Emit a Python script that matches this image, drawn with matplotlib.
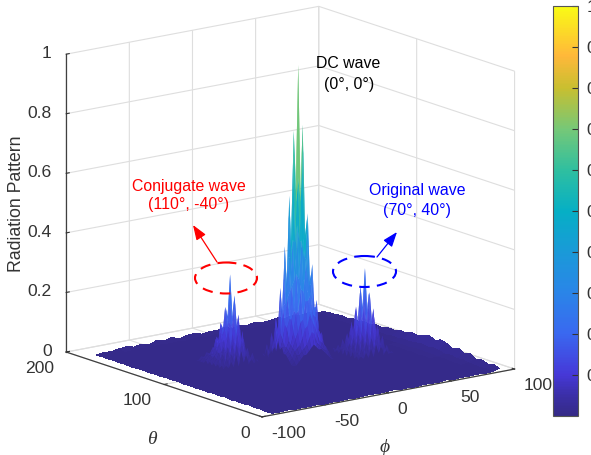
import numpy as np
import matplotlib
matplotlib.use("Agg")
import matplotlib.pyplot as plt
from matplotlib.colors import LinearSegmentedColormap, Normalize
from matplotlib.cm import ScalarMappable
from matplotlib.patches import Ellipse

plt.rcParams['font.family'] = ['Liberation Sans', 'DejaVu Sans']
plt.rcParams['axes.unicode_minus'] = False

phi_ticks = [-100, -50, 0, 50, 100]
theta_ticks = [0, 100, 200]
z_ticks = [0, 0.2, 0.4, 0.6, 0.8, 1]
cbar_ticks = [0.1, 0.2, 0.3, 0.4, 0.5, 0.6, 0.7, 0.8, 0.9, 1]

# background level, read in thousandths: rows theta 0..180, columns phi -92..88, step 6
floor_phi = list(range(-92, 89, 6))
floor_theta = list(range(0, 181, 6))
floor_level = [
    [6, 5, 7, 4, 6, 4, 7, 3, 5, 4, 6, 4, 5, 7, 4, 6, 7, 4, 5, 3, 6, 5, 4, 7, 4, 6, 5, 7, 4, 6, 12],
    [4, 7, 4, 6, 3, 5, 4, 7, 4, 6, 3, 6, 4, 4, 7, 5, 3, 6, 4, 7, 4, 5, 7, 3, 6, 4, 6, 4, 7, 9, 19],
    [7, 4, 6, 5, 7, 3, 6, 4, 5, 3, 7, 4, 6, 5, 3, 6, 5, 4, 7, 4, 6, 3, 5, 6, 4, 7, 4, 5, 5, 7, 13],
    [5, 6, 3, 7, 4, 6, 4, 7, 3, 6, 5, 4, 7, 4, 6, 4, 7, 5, 3, 6, 4, 7, 4, 6, 3, 5, 7, 4, 6, 8, 21],
    [8, 4, 6, 4, 5, 7, 5, 3, 6, 4, 7, 5, 4, 6, 5, 7, 3, 6, 4, 5, 7, 4, 6, 5, 7, 4, 3, 6, 5, 9, 16],
    [5, 7, 5, 6, 3, 4, 7, 5, 4, 7, 4, 6, 5, 3, 7, 4, 6, 5, 7, 4, 5, 6, 3, 7, 4, 6, 7, 4, 7, 14, 30],
    [7, 4, 6, 4, 7, 6, 4, 5, 6, 3, 5, 7, 4, 7, 4, 5, 5, 7, 3, 6, 7, 4, 5, 4, 6, 5, 4, 7, 6, 10, 24],
    [5, 6, 4, 7, 4, 5, 7, 6, 4, 7, 4, 5, 6, 5, 4, 7, 4, 6, 5, 7, 4, 5, 7, 6, 4, 6, 5, 5, 9, 16, 34],
    [8, 4, 7, 5, 6, 4, 5, 4, 7, 5, 6, 4, 7, 4, 6, 5, 7, 4, 6, 4, 5, 7, 4, 7, 5, 4, 7, 6, 7, 12, 26],
    [6, 7, 4, 6, 5, 7, 4, 6, 3, 6, 7, 5, 4, 7, 5, 6, 4, 5, 7, 5, 7, 4, 6, 5, 7, 5, 4, 8, 11, 18, 37],
    [8, 5, 6, 4, 7, 4, 6, 5, 7, 4, 4, 7, 5, 6, 4, 7, 5, 4, 6, 4, 5, 7, 5, 4, 6, 5, 7, 6, 10, 20, 42],
    [5, 7, 4, 7, 5, 6, 4, 7, 4, 6, 5, 4, 7, 5, 6, 4, 6, 7, 4, 7, 6, 4, 7, 6, 4, 7, 5, 9, 12, 17, 35],
    [7, 4, 6, 5, 6, 4, 7, 5, 5, 7, 4, 6, 5, 4, 7, 5, 7, 4, 6, 5, 7, 5, 4, 7, 5, 6, 6, 7, 11, 21, 44],
    [5, 8, 4, 7, 4, 7, 5, 6, 7, 4, 6, 5, 7, 6, 4, 6, 4, 7, 5, 6, 4, 7, 6, 4, 7, 4, 5, 9, 8, 18, 38],
    [7, 4, 6, 5, 7, 5, 6, 4, 5, 7, 7, 4, 6, 4, 7, 5, 6, 4, 7, 5, 7, 4, 5, 6, 5, 7, 4, 8, 10, 15, 31],
    [5, 7, 4, 6, 4, 7, 4, 7, 6, 4, 5, 7, 4, 6, 5, 7, 4, 6, 4, 7, 5, 6, 7, 4, 6, 4, 7, 7, 9, 17, 36],
    [8, 4, 7, 5, 6, 5, 7, 5, 4, 7, 5, 6, 7, 4, 5, 6, 5, 7, 4, 6, 7, 4, 5, 7, 5, 6, 4, 7, 8, 13, 27],
    [6, 7, 5, 7, 4, 6, 4, 6, 5, 7, 4, 6, 5, 7, 6, 4, 7, 5, 6, 4, 5, 7, 4, 6, 7, 4, 6, 5, 8, 14, 29],
    [8, 4, 6, 4, 7, 5, 7, 4, 7, 5, 6, 4, 5, 7, 4, 7, 5, 6, 7, 5, 6, 4, 7, 5, 4, 7, 5, 6, 7, 11, 23],
    [5, 6, 7, 5, 5, 7, 4, 6, 4, 6, 7, 5, 7, 4, 6, 5, 6, 4, 7, 4, 6, 7, 4, 6, 7, 5, 7, 6, 6, 12, 25],
    [7, 5, 4, 6, 7, 4, 6, 7, 5, 4, 6, 7, 4, 6, 7, 4, 6, 7, 5, 5, 7, 5, 6, 4, 5, 7, 4, 5, 6, 9, 19],
    [5, 7, 6, 4, 5, 7, 4, 5, 7, 6, 4, 7, 5, 6, 5, 7, 4, 5, 7, 6, 4, 7, 5, 7, 6, 4, 6, 7, 5, 10, 21],
    [7, 4, 7, 5, 6, 4, 7, 5, 4, 7, 6, 5, 4, 7, 6, 4, 7, 5, 4, 7, 6, 4, 6, 4, 7, 5, 5, 7, 4, 8, 15],
    [6, 6, 4, 7, 5, 6, 7, 4, 6, 4, 5, 7, 6, 4, 7, 5, 6, 6, 4, 7, 5, 6, 5, 7, 4, 6, 7, 4, 6, 8, 18],
    [4, 7, 5, 5, 7, 4, 5, 6, 7, 5, 7, 4, 6, 5, 4, 7, 5, 4, 7, 4, 6, 7, 4, 6, 7, 4, 5, 6, 5, 7, 12],
    [7, 4, 6, 7, 4, 6, 5, 4, 6, 7, 4, 6, 7, 5, 6, 4, 7, 6, 5, 6, 4, 4, 7, 5, 4, 6, 7, 4, 7, 7, 16],
    [5, 6, 4, 6, 7, 5, 7, 6, 4, 5, 7, 5, 4, 7, 5, 7, 4, 5, 6, 7, 5, 7, 5, 4, 6, 7, 5, 6, 4, 6, 11],
    [7, 5, 7, 4, 5, 6, 4, 7, 5, 7, 4, 6, 5, 4, 7, 6, 5, 7, 4, 5, 7, 4, 6, 7, 5, 4, 7, 5, 7, 6, 14],
    [6, 7, 5, 6, 7, 4, 6, 5, 6, 4, 6, 7, 4, 6, 5, 4, 6, 5, 7, 4, 6, 5, 7, 4, 6, 7, 4, 6, 5, 7, 10],
    [7, 5, 8, 5, 7, 8, 5, 7, 9, 6, 8, 5, 7, 9, 5, 8, 6, 5, 7, 9, 5, 7, 5, 8, 6, 8, 5, 7, 6, 8, 11],
    [5, 9, 7, 11, 14, 8, 12, 6, 15, 9, 16, 7, 13, 15, 8, 12, 11, 16, 8, 13, 9, 14, 8, 11, 15, 8, 13, 9, 12, 8, 6],
]

# light specks seen on the floor: phi positions per theta row (theta 3..177, step 6)
speck_theta = list(range(3, 178, 6))
speck_phi = [
    [-71, -38, -12, 9, 33, 61, -52, -24, 4, 21, 46, 70],
    [-64, -41, -20, -3, 17, 29, 52, 73, -83, -31, -9, 39],
    [-82, -55, -28, -9, 6, 24, 47, 66, -43, -17, 13, 35],
    [-49, -33, -15, 2, 13, 38, 58, 79, -68, -25, 27, 45],
    [-76, -59, -26, -7, 11, 22, 43, 70, -37, -13, 3, 54],
    [-68, -44, -18, -1, 19, 35, 51, 63, -30, -10, 8, 26, 41],
    [-53, -36, -23, 4, 15, 28, 47, 74, -12, -5, 9, 20, 60],
    [-79, -61, -39, -14, 8, 25, 41, 57, -27, -3, 16, 33],
    [-47, -30, -11, 3, 20, 34, 49, 68, -20, -6, 13, 27, 62],
    [-72, -56, -25, -6, 12, 27, 55, 63, -15, 5, 18, 37, 43],
    [-65, -42, -31, -17, 1, 18, 59, 77, -9, 7, 23, 35, 50],
    [-51, -37, -22, -19, 21, 24, 30, 53, 71, -14, 16, 26, -2],
    [-83, -46, -28, -21, 23, 18, 60, 66, -33, -12, 15, 28],
    [-60, -34, -24, -20, 22, 19, 56, 74, -40, 17, 31, 25],
    [-70, -48, -30, -23, 25, 33, 49, 62, -18, 20, 28, 39],
    [-54, -41, -26, -19, 21, 37, 58, 80, -32, -22, 16, 44],
    [-77, -58, -35, -24, 20, 29, 44, 68, -45, -17, 14, 52],
    [-62, -52, -29, -18, 6, 24, 51, 72, -38, -21, 12, 35],
    [-85, -66, -27, -14, 3, 17, 39, 60, -44, -33, -8, 25],
    [-59, -23, -12, -4, 11, 32, 55, 75, -40, -29, 20, 46],
    [-74, -60, -25, -8, 7, 26, 46, 67, -37, -16, 16, 34],
    [-63, -48, -21, -2, 15, 36, 57, -30, -11, 5, 24, 78],
    [-80, -57, -33, -13, 5, 28, 50, 70, -42, -22, 17, 38],
    [-69, -43, -27, 1, 19, 41, 64, -53, -8, 10, 30, 55],
    [-55, -35, -16, 9, 30, 53, 76, -73, -25, 2, 20, 43],
    [-75, -49, -24, -5, 14, 38, 61, -60, -31, 7, 27, 49],
    [-66, -39, -10, 23, 45, 69, -51, -19, 4, 33],
    [-81, -52, -29, 6, 33, 58, -64, -14, 16, 47],
    [-61, -37, -15, 12, 42, 73, -46, -23, 27, 55],
    [-72, -44, -20, 18, 49, 65, -33, 2, 35],
]

# DC lobe, read in hundredths: theta 76..108, phi -16..16, step 2
dc_phi = list(range(-16, 17, 2))
dc_theta = list(range(76, 109, 2))
dc_level = [
    [2, 2, 3, 4, 5, 5, 6, 7, 8, 7, 6, 6, 5, 4, 3, 2, 2],
    [2, 3, 5, 5, 6, 7, 8, 10, 12, 11, 8, 7, 6, 5, 5, 3, 2],
    [3, 4, 6, 7, 8, 10, 13, 14, 18, 15, 13, 10, 8, 7, 6, 4, 3],
    [4, 5, 7, 10, 12, 15, 16, 22, 22, 24, 17, 16, 12, 10, 7, 5, 4],
    [5, 6, 8, 12, 18, 19, 26, 25, 36, 27, 27, 19, 19, 11, 8, 6, 5],
    [5, 7, 9, 16, 19, 31, 29, 42, 36, 44, 27, 31, 16, 21, 7, 10, 4],
    [7, 7, 13, 16, 27, 29, 47, 41, 72, 42, 49, 24, 33, 12, 18, 5, 9],
    [6, 9, 14, 23, 25, 42, 41, 64, 56, 80, 34, 50, 19, 29, 10, 14, 4],
    [9, 11, 20, 21, 36, 36, 70, 58, 100, 54, 72, 30, 43, 17, 24, 8, 11],
    [5, 15, 11, 30, 19, 51, 33, 78, 54, 62, 38, 41, 24, 22, 13, 10, 6],
    [9, 5, 19, 11, 34, 23, 56, 34, 74, 35, 50, 26, 27, 15, 14, 7, 7],
    [4, 10, 7, 22, 14, 39, 23, 50, 30, 52, 22, 36, 14, 18, 9, 7, 5],
    [7, 4, 13, 9, 25, 14, 33, 19, 44, 20, 34, 14, 25, 8, 11, 6, 4],
    [2, 8, 5, 15, 9, 22, 12, 30, 17, 29, 12, 22, 8, 15, 4, 8, 3],
    [5, 2, 10, 4, 12, 7, 19, 10, 25, 11, 18, 7, 12, 4, 10, 2, 4],
    [2, 6, 3, 9, 4, 11, 6, 15, 9, 15, 5, 11, 4, 8, 2, 6, 2],
    [3, 2, 5, 2, 7, 4, 9, 5, 11, 4, 9, 3, 7, 2, 5, 1, 3],
]

# conjugate lobe, hundredths: theta 96..124, phi -56..-28, step 2
conj_phi = list(range(-56, -27, 2))
conj_theta = list(range(96, 125, 2))
conj_level = [
    [2, 3, 2, 4, 2, 6, 2, 7, 3, 6, 2, 4, 2, 3, 2],
    [3, 2, 5, 2, 6, 3, 9, 4, 10, 4, 7, 2, 5, 2, 3],
    [2, 5, 2, 7, 4, 9, 5, 12, 6, 13, 4, 7, 3, 5, 2],
    [3, 2, 6, 3, 8, 5, 12, 7, 15, 7, 11, 4, 6, 2, 3],
    [2, 4, 4, 8, 6, 13, 7, 17, 9, 18, 7, 10, 4, 5, 2],
    [3, 4, 6, 6, 10, 10, 16, 14, 20, 14, 15, 7, 8, 3, 4],
    [2, 5, 6, 9, 9, 14, 14, 22, 17, 24, 11, 13, 6, 7, 2],
    [3, 4, 8, 7, 12, 11, 20, 17, 31, 16, 21, 9, 12, 4, 4],
    [2, 5, 5, 10, 8, 15, 13, 20, 15, 21, 11, 12, 5, 7, 2],
    [3, 4, 5, 6, 9, 9, 14, 12, 18, 12, 13, 7, 7, 3, 4],
    [2, 3, 4, 6, 6, 10, 8, 13, 10, 12, 7, 8, 4, 4, 2],
    [2, 3, 4, 4, 6, 6, 9, 7, 10, 7, 8, 4, 5, 3, 2],
    [2, 3, 3, 4, 4, 6, 5, 7, 6, 7, 4, 5, 3, 3, 2],
    [2, 2, 3, 3, 4, 3, 5, 4, 6, 4, 4, 3, 3, 2, 2],
    [2, 2, 3, 2, 4, 3, 4, 3, 5, 3, 3, 3, 3, 2, 2],
]

# original lobe, hundredths: theta 64..92, phi 26..54, step 2
orig_phi = list(range(26, 55, 2))
orig_theta = list(range(64, 93, 2))
orig_level = [
    [2, 3, 2, 4, 2, 5, 2, 6, 3, 7, 2, 4, 2, 3, 2],
    [3, 2, 5, 2, 7, 3, 8, 4, 10, 3, 7, 2, 5, 2, 2],
    [2, 4, 2, 8, 4, 10, 5, 13, 6, 12, 4, 8, 3, 4, 2],
    [4, 2, 7, 3, 9, 5, 13, 6, 16, 7, 10, 4, 7, 2, 3],
    [2, 6, 3, 9, 6, 14, 7, 18, 9, 17, 6, 10, 3, 5, 2],
    [4, 2, 8, 5, 12, 8, 19, 12, 22, 12, 14, 8, 8, 3, 4],
    [2, 6, 4, 11, 7, 16, 13, 23, 16, 22, 11, 12, 6, 6, 2],
    [4, 3, 9, 6, 14, 11, 22, 17, 30, 15, 20, 9, 10, 4, 4],
    [2, 6, 4, 11, 7, 17, 11, 24, 14, 24, 9, 13, 5, 5, 2],
    [4, 2, 7, 4, 11, 7, 17, 10, 20, 9, 14, 5, 8, 2, 3],
    [2, 5, 3, 8, 4, 12, 6, 14, 8, 13, 5, 8, 3, 5, 2],
    [3, 2, 5, 3, 8, 4, 10, 5, 11, 5, 8, 3, 5, 2, 3],
    [2, 4, 2, 6, 3, 7, 4, 8, 4, 7, 3, 5, 3, 3, 2],
    [3, 2, 4, 2, 5, 3, 5, 3, 6, 3, 4, 2, 3, 2, 2],
    [2, 3, 2, 3, 2, 4, 2, 5, 3, 4, 2, 3, 2, 2, 2],
]

parula = LinearSegmentedColormap.from_list("parula", [
    (0.0, "#352a87"), (0.05, "#3b2fa8"), (0.1, "#4638d8"), (0.2, "#3a68f0"),
    (0.3, "#2a85e8"), (0.4, "#1a9ad8"), (0.5, "#06afc5"), (0.6, "#2fbfa0"),
    (0.7, "#75c878"), (0.8, "#c8bf30"), (0.88, "#ffb83a"), (1.0, "#f9fb15")])
norm = Normalize(0, 1)

W, H = 591, 455
fig = plt.figure(figsize=(W / 100, H / 100), dpi=100)

side = 532
ax = fig.add_axes([(283.2 - side / 2) / W, 1 - (218.8 + side / 2) / H, side / W, side / H],
                  projection='3d', proj_type='ortho', computed_zorder=False)
ax.view_init(elev=14.5, azim=-127.1)
ax.set_box_aspect((317, 325, 308), zoom=1)


def draw_surface(phi, theta, level, scale, order, alpha, smooth):
    P, T = np.meshgrid(phi, theta)
    Z = np.array(level) / scale
    ax.plot_surface(P, T, Z, rstride=1, cstride=1, cmap=parula, norm=norm, linewidth=0,
                    antialiased=smooth, shade=False, alpha=alpha, zorder=order)


draw_surface(floor_phi, floor_theta, floor_level, 1000, 2, 1, False)

# specks sit just above the floor surface
sx, sy = [], []
for t, row in zip(speck_theta, speck_phi):
    sx += row
    sy += [t] * len(row)
ax.scatter(sx, sy, [0.012] * len(sx), s=0.5, c='#7f7ce0', marker='s', linewidths=0,
           alpha=0.55, depthshade=False, zorder=2.5)

draw_surface(conj_phi, conj_theta, conj_level, 100, 3, 0.92, True)
draw_surface(dc_phi, dc_theta, dc_level, 100, 4, 0.92, True)
draw_surface(orig_phi, orig_theta, orig_level, 100, 5, 0.92, True)

ax.set_xlim(-100, 100, view_margin=0)
ax.set_ylim(0, 200, view_margin=0)
ax.set_zlim(0, 1, view_margin=0)
ax.set_xticks(phi_ticks)
ax.set_yticks(theta_ticks)
ax.set_zticks(z_ticks)
ax.set_xticklabels([str(v) for v in phi_ticks], ha='left', va='center')
ax.set_yticklabels([str(v) for v in theta_ticks], ha='right', va='center')
ax.set_zticklabels(['0', '0.2', '0.4', '0.6', '0.8', '1'], ha='right', va='center')
ax.patch.set_alpha(0)
for a in (ax.xaxis, ax.yaxis, ax.zaxis):
    a.set_pane_color((1, 1, 1, 0))
    a.pane.set_edgecolor((1, 1, 1, 0))
    a._axinfo['grid'].update(color='#dedede', linewidth=0.8)
    a._axinfo['tick'].update(inward_factor=0, outward_factor=0.15)
    a.line.set_color('#404040')
    a.line.set_linewidth(0.9)
ax.tick_params(labelsize=12.6, colors='#333333')
ax.xaxis.set_tick_params(pad=1.2)
ax.yaxis.set_tick_params(pad=1.5)
ax.zaxis.set_tick_params(pad=-1.5)

# colorbar
cax = fig.add_axes([553 / W, 1 - 416 / H, 25 / W, 410 / H])
cb = fig.colorbar(ScalarMappable(norm=norm, cmap=parula), cax=cax)
cb.set_ticks(cbar_ticks)
cb.set_ticklabels(['0.1', '0.2', '0.3', '0.4', '0.5', '0.6', '0.7', '0.8', '0.9', '1'])
cb.ax.tick_params(direction='in', length=4, width=0.8, labelsize=12.6, colors='#333333', pad=6)
cb.outline.set_edgecolor('#555555')
cb.outline.set_linewidth(0.8)

# annotations in pixel coordinates
ov = fig.add_axes([0, 0, 1, 1])
ov.set_xlim(0, W)
ov.set_ylim(H, 0)
ov.axis('off')
ov.text(348, 63, "DC wave", ha='center', va='center', fontsize=11.4, color='k')
ov.text(349, 85, "(0°, 0°)", ha='center', va='center', fontsize=11.4, color='k')
ov.text(189, 186, "Conjugate wave", ha='center', va='center', fontsize=11.4, color='r')
ov.text(189, 205, "(110°, -40°)", ha='center', va='center', fontsize=11.4, color='r')
ov.text(417, 190, "Original wave", ha='center', va='center', fontsize=11.4, color='b')
ov.text(417, 210, "(70°, 40°)", ha='center', va='center', fontsize=11.4, color='b')
ov.add_patch(Ellipse((226, 278), 62, 31, fill=False, ec='r', lw=1.5, ls=(0, (5, 3.5))))
ov.add_patch(Ellipse((364.5, 271.5), 63, 31, fill=False, ec='b', lw=1.5, ls=(0, (5, 3.5))))
head = '-|>,head_length=0.6,head_width=0.22'
ov.annotate("", xy=(193, 225), xytext=(217, 262),
            arrowprops=dict(arrowstyle=head, color='r', lw=0.9, mutation_scale=15, shrinkA=0, shrinkB=0))
ov.annotate("", xy=(397, 232), xytext=(377, 257),
            arrowprops=dict(arrowstyle=head, color='b', lw=0.9, mutation_scale=15, shrinkA=0, shrinkB=0))
ov.text(17, 204, "Radiation Pattern", rotation=90, ha='center', va='center', fontsize=12.7, color='#333333')
ov.text(152, 440, "θ", ha='center', va='center', fontsize=14, style='italic',
        family='Liberation Serif', color='#333333')
ov.text(385, 447, "ϕ", ha='center', va='center', fontsize=14, style='italic',
        family=['Liberation Serif', 'DejaVu Serif'], color='#333333')

fig.savefig("out.png", dpi=100)
